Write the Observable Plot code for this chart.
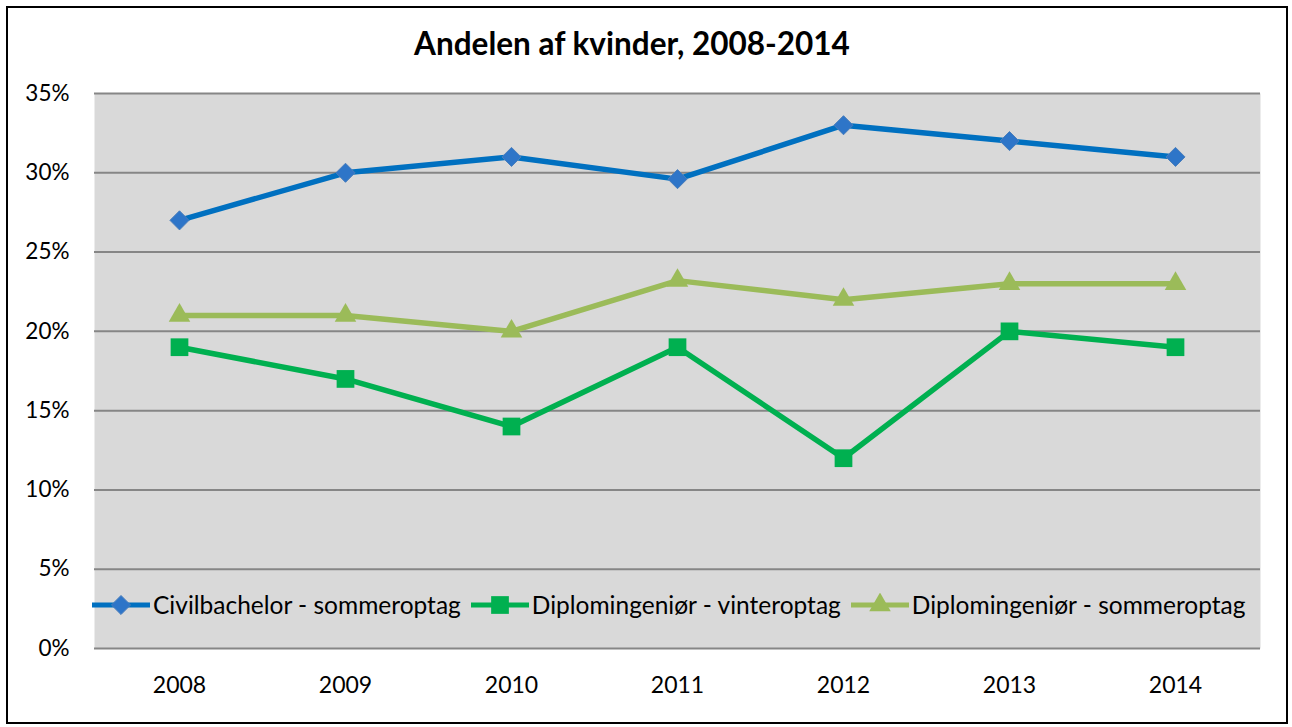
<!DOCTYPE html>
<html>
<head>
<meta charset="utf-8">
<script src="https://cdn.jsdelivr.net/npm/d3@7"></script>
<script src="https://cdn.jsdelivr.net/npm/@observablehq/plot@0.6"></script>
<style>
  html, body { margin: 0; padding: 0; background: #fff; }
  #wrap { position: relative; width: 1292px; height: 727px; font-family: Lato, "Open Sans", sans-serif; }
  #border { position: absolute; left: 6px; top: 6px; width: 1278px; height: 714px; border: 2px solid #000; box-sizing: content-box; }
  #title { position: absolute; left: -28px; top: 24px; width: 1320px; text-align: center; font-weight: bold; font-size: 31.5px; color: #000; }
  #chart { position: absolute; left: 0; top: 0; }
  #legend { position: absolute; left: 92px; top: 590px; display: flex; align-items: center; font-size: 24.5px; color: #000; white-space: nowrap; }
  .item { display: flex; align-items: center; margin-right: 10px; }
  .item svg { margin-right: 3px; }
</style>
</head>
<body>
<div id="wrap">
  <div id="chart"></div>
  <div id="border"></div>
  <div id="title">Andelen af kvinder, 2008-2014</div>
  <div id="legend"></div>
</div>
<script>
const years = ["2008", "2009", "2010", "2011", "2012", "2013", "2014"];
const seriesNames = ["Civilbachelor - sommeroptag", "Diplomingeniør - vinteroptag", "Diplomingeniør - sommeroptag"];
const civilSommer = [27, 30, 31, 29.6, 33, 32, 31];
const diplomVinter = [19, 17, 14, 19, 12, 20, 19];
const diplomSommer = [21, 21, 20, 23.2, 22, 23, 23];
const yTicks = [0, 5, 10, 15, 20, 25, 30, 35];

const lineColors = ["#0070c0", "#00b050", "#9bbb59"];
const markerFill = ["#2e75c8", "#00b050", "#9bbb59"];
const symbols = ["diamond2", "square", "triangle"];
const radii = [8.6, 10, 8];

const allSeries = [civilSommer, diplomVinter, diplomSommer];
const data = [];
allSeries.forEach((vals, si) => vals.forEach((v, i) => data.push({series: seriesNames[si], idx: si, year: years[i], value: v / 100})));

const marks = [
  Plot.frame({fill: "#d9d9d9", stroke: null}),
  Plot.gridY(yTicks.map(d => d / 100), {stroke: "#868686", strokeOpacity: 1, strokeWidth: 2}),
];
seriesNames.forEach((name, si) => {
  const d = data.filter(r => r.idx === si);
  marks.push(Plot.line(d, {x: "year", y: "value", stroke: lineColors[si], strokeWidth: 5.5, strokeLinejoin: "round"}));
  marks.push(Plot.dot(d, {x: "year", y: "value", symbol: () => symbols[si], r: radii[si], fill: markerFill[si], stroke: si === 0 ? "#4a7ebb" : "none", strokeWidth: 1}));
});
marks.push(Plot.axisY(yTicks.map(d => d / 100), {tickSize: 0, tickPadding: 25, tickFormat: d => Math.round(d * 100) + "%", fontSize: 22.5, fill: "#000", label: null}));
marks.push(Plot.axisX(years, {tickSize: 0, tickPadding: 28, fontSize: 23, fill: "#000", label: null}));

const chart = Plot.plot({
  width: 1292,
  height: 727,
  marginLeft: 94,
  marginRight: 32,
  marginTop: 93,
  marginBottom: 79,
  style: {fontFamily: "Lato, 'Open Sans', sans-serif", background: "transparent", overflow: "visible"},
  x: {type: "point", domain: years, padding: 0.5, label: null},
  y: {domain: [0, 0.35], label: null},
  symbol: {type: "identity"},
  marks
});
document.getElementById("chart").appendChild(chart);

// Legend
const legend = document.getElementById("legend");
seriesNames.forEach((name, si) => {
  const item = document.createElement("div");
  item.className = "item";
  const sw = d3.create("svg").attr("width", 58).attr("height", 24);
  sw.append("line").attr("x1", 0).attr("x2", 58).attr("y1", 12).attr("y2", 12).attr("stroke", lineColors[si]).attr("stroke-width", 5);
  sw.append("path").attr("transform", "translate(29,12)")
    .attr("d", d3.symbol(si === 0 ? d3.symbolDiamond2 : si === 1 ? d3.symbolSquare : d3.symbolTriangle, Math.PI * radii[si] * radii[si])())
    .attr("fill", markerFill[si]).attr("stroke", si === 0 ? "#4a7ebb" : "none");
  item.appendChild(sw.node());
  const t = document.createElement("span");
  t.textContent = name;
  item.appendChild(t);
  legend.appendChild(item);
});
</script>
</body>
</html>
